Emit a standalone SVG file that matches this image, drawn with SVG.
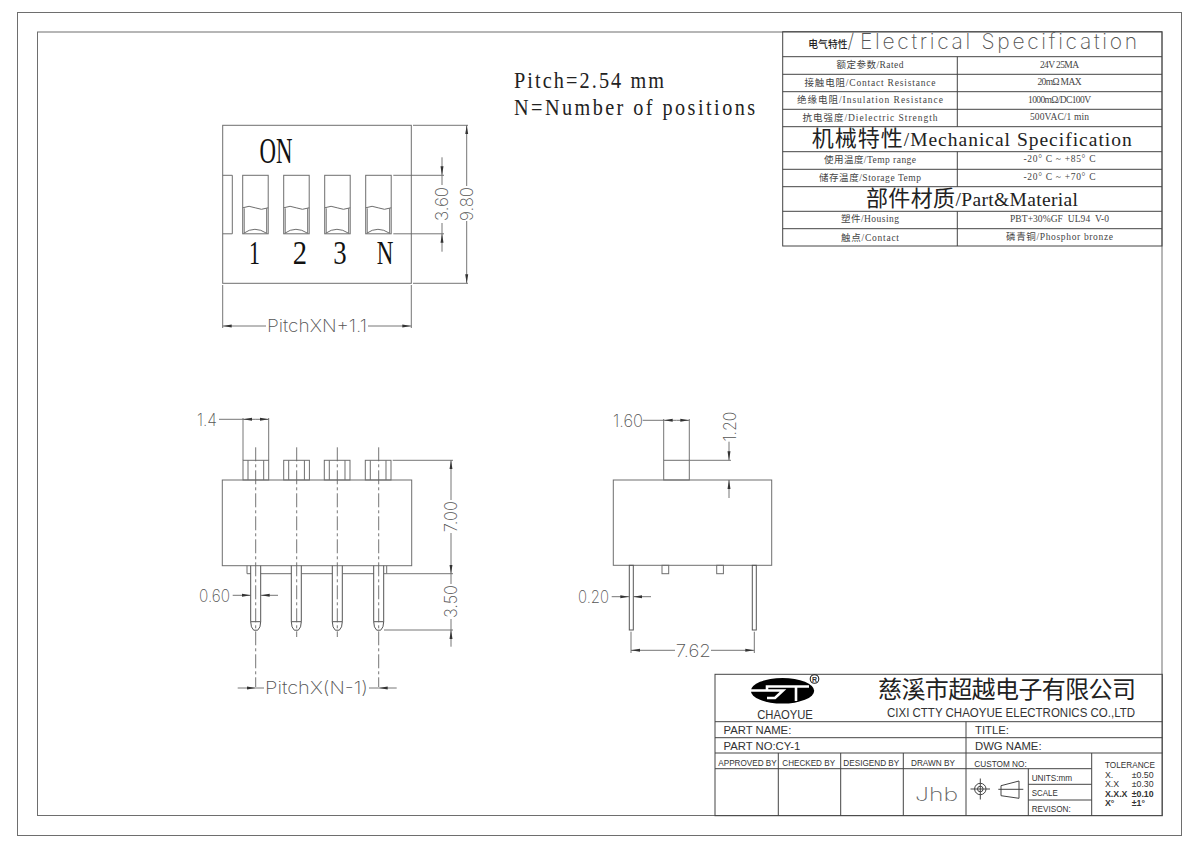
<svg xmlns="http://www.w3.org/2000/svg" xmlns:xlink="http://www.w3.org/1999/xlink" width="1200" height="848" viewBox="0 0 1200 848">
<style>
.l{fill:none;stroke:#6e6e6e;stroke-width:1}
.k{fill:none;stroke:#555;stroke-width:1}
.t{fill:none;stroke:#444;stroke-width:1}
.c{fill:none;stroke:#666;stroke-width:.9;stroke-dasharray:14 3 3 3}
.d{fill:none;stroke:#666;stroke-width:.9}
.dim{font-family:Inter,"Liberation Sans",Arial,sans-serif;font-weight:200;font-size:17.500px;fill:#555;text-anchor:middle}
.big{font-family:"Liberation Serif","Times New Roman",serif;fill:#111}
.pitch{font-family:"Liberation Serif","Times New Roman",serif;font-size:23px;fill:#222}
.s{font-family:"Liberation Serif","Noto Sans CJK SC",serif;font-size:9.500px;fill:#444;text-anchor:middle}
.h{font-family:"Liberation Serif","Noto Sans CJK SC",serif;font-size:19.500px;fill:#222;text-anchor:middle}
.hc{font-size:22px}
.a{font-family:"Liberation Sans",Arial,sans-serif;fill:#333}
</style>
<defs>
<marker id="ar" viewBox="0 0 9 4" refX="9" refY="2" markerWidth="9" markerHeight="4" markerUnits="userSpaceOnUse" orient="auto-start-reverse"><path d="M0 .5L9 2L0 3.500z" fill="#333"/></marker>
<g id="sw"><rect x="0" y="0" width="25.500" height="58.500" class="l"/><path class="l" d="M0 32.500q6.500-3 12.500 0t13 0M1.500 33V58M24 33V58"/><path class="l" d="M1 58q11-8 23 0"/></g>
<g id="btn"><rect x="0" y="0" width="25.700" height="19.700" class="l"/><path class="l" d="M5 0V19.700M20.700 0V19.700"/></g>
<g id="pin"><path class="k" d="M0 0V56Q0 62 3 64.500H7Q10 62 10 56V0M0 56H10"/></g>
</defs>
<g id="frame"><rect x="17.500" y="12.500" width="1164" height="823" class="l"/><rect x="37.500" y="32" width="1124.500" height="783.500" class="l"/></g>

<g id="notes"><text class="pitch" transform="translate(514 88) scale(.88 1)" textLength="170.500" lengthAdjust="spacing">Pitch=2.54 mm</text><text class="pitch" transform="translate(514 115) scale(.88 1)" textLength="274" lengthAdjust="spacing">N=Number of positions</text></g>

<g id="top-view">
<rect x="222.700" y="125.300" width="188.600" height="158" class="l"/>
<path class="l" d="M222.700 175.300H232.300V233.800H222.700"/>
<use xlink:href="#sw" x="242.700" y="175.300"/><use xlink:href="#sw" x="283.700" y="175.300"/><use xlink:href="#sw" x="324.700" y="175.300"/><use xlink:href="#sw" x="365.700" y="175.300"/>
<text class="big" x="259.500" y="163" font-size="35" textLength="33" lengthAdjust="spacingAndGlyphs">ON</text>
<text class="big" x="249" y="264" font-size="34" textLength="11" lengthAdjust="spacingAndGlyphs">1</text><text class="big" x="292.700" y="264" font-size="34" textLength="14.300" lengthAdjust="spacingAndGlyphs">2</text><text class="big" x="333.300" y="264" font-size="34" textLength="13.400" lengthAdjust="spacingAndGlyphs">3</text><text class="big" x="376.700" y="264" font-size="34" textLength="16.600" lengthAdjust="spacingAndGlyphs">N</text>
</g>

<g id="front-view">
<rect x="222.300" y="480" width="189.400" height="85.700" class="l"/>
<use xlink:href="#btn" x="243" y="460.300"/><use xlink:href="#btn" x="283.700" y="460.300"/><use xlink:href="#btn" x="324.300" y="460.300"/><use xlink:href="#btn" x="365.300" y="460.300"/>
<path class="l" d="M247 565.700V573.700H250.700M260.700 573.700H291.300M301.600 573.700H332.300M342.700 573.700H373.700M384 573.700H386.700V565.700"/>
<use xlink:href="#pin" x="250.700" y="565.700"/><use xlink:href="#pin" x="291.300" y="565.700"/><use xlink:href="#pin" x="332.300" y="565.700"/><use xlink:href="#pin" x="373.700" y="565.700"/>
</g>

<g id="side-view">
<rect x="613.300" y="480" width="158.400" height="85.300" class="l"/>
<rect x="663.700" y="460.300" width="25.600" height="19.700" class="l"/>
<rect x="629.300" y="565.300" width="4" height="64.700" class="k"/><rect x="752.300" y="565.300" width="4" height="64.700" class="k"/>
<rect x="662" y="565.300" width="6.700" height="8.400" class="l"/><rect x="716.700" y="565.300" width="6.700" height="8.400" class="l"/>
</g>

<g id="connectors">
<path class="d" d="M393.300 175.300H444M393.300 233.800H444M413 125.300H468M413 283.300H468M222.700 285V328M411.300 285V328"/>
<path class="d" d="M442 157.300V175.300" marker-end="url(#ar)"/><path class="d" d="M442 175.300V185"/><path class="d" d="M442 251.700V233.800" marker-end="url(#ar)"/><path class="d" d="M442 233.800V223"/>
<path class="d" d="M466.700 186V125.300" marker-end="url(#ar)"/><path class="d" d="M466.700 221V283.300" marker-end="url(#ar)"/>
<path class="d" d="M266 326H222.700" marker-end="url(#ar)"/><path class="d" d="M368 326H411.300" marker-end="url(#ar)"/>

<path class="c" d="M255.700 447.300V687M378.700 447.300V687M296.700 447.300V637M337.300 447.300V637"/>
<path class="d" d="M243 460V418M268.700 460V418M219 419.300H243"/>
<path class="d" d="M255.800 419.300H243" marker-end="url(#ar)"/><path class="d" d="M255.800 419.300H268.700" marker-end="url(#ar)"/>
<path class="d" d="M392.700 460.300H453M386.700 573.700H453M384 630H453"/>
<path class="d" d="M451 500V460.300" marker-end="url(#ar)"/><path class="d" d="M451 533V573.700" marker-end="url(#ar)"/>
<path class="d" d="M451 584V573.700"/><path class="d" d="M451 646.700V630" marker-end="url(#ar)"/><path class="d" d="M451 630V619"/>
<path class="d" d="M232.700 595.300H250.700" marker-end="url(#ar)"/><path class="d" d="M278 595.300H260.700" marker-end="url(#ar)"/>
<path class="d" d="M237.700 688H255.700" marker-end="url(#ar)"/><path class="d" d="M255.700 688H264M369 688H378.700"/><path class="d" d="M396.700 688H378.700" marker-end="url(#ar)"/>

<path class="d" d="M663.700 460V419M689.300 460V419M642.700 420.300H663.700"/>
<path class="d" d="M676.500 420.300H663.700" marker-end="url(#ar)"/><path class="d" d="M676.500 420.300H689.300" marker-end="url(#ar)"/>
<path class="d" d="M689.300 460.300H731"/>
<path class="d" d="M729 441.700V460.300" marker-end="url(#ar)"/><path class="d" d="M729 498V480" marker-end="url(#ar)"/>
<path class="d" d="M611.700 596.700H629.300" marker-end="url(#ar)"/><path class="d" d="M651 596.700H633.300" marker-end="url(#ar)"/>
<path class="d" d="M631 631.700V653M754.300 631.700V653"/>
<path class="d" d="M675 650.300H631" marker-end="url(#ar)"/><path class="d" d="M711 650.300H754.300" marker-end="url(#ar)"/>
</g>

<g id="dimension-labels">
<text class="dim" transform="translate(448.300 204) rotate(-90)" textLength="34" lengthAdjust="spacingAndGlyphs">3.60</text>
<text class="dim" transform="translate(473.300 204) rotate(-90)" textLength="34" lengthAdjust="spacingAndGlyphs">9.80</text>
<text class="dim" x="317" y="331.500" textLength="100" lengthAdjust="spacingAndGlyphs">PitchXN+1.1</text>
<text class="dim" x="207" y="426" textLength="20" lengthAdjust="spacingAndGlyphs">1.4</text>
<text class="dim" transform="translate(457 516.700) rotate(-90)" textLength="31" lengthAdjust="spacingAndGlyphs">7.00</text>
<text class="dim" transform="translate(457 601.500) rotate(-90)" textLength="33" lengthAdjust="spacingAndGlyphs">3.50</text>
<text class="dim" x="214.500" y="602" textLength="31" lengthAdjust="spacingAndGlyphs">0.60</text>
<text class="dim" x="316.500" y="694" textLength="103" lengthAdjust="spacingAndGlyphs">PitchX(N-1)</text>
<text class="dim" x="628" y="427" textLength="30" lengthAdjust="spacingAndGlyphs">1.60</text>
<text class="dim" transform="translate(736 426.500) rotate(-90)" textLength="30" lengthAdjust="spacingAndGlyphs">1.20</text>
<text class="dim" x="593.500" y="603" textLength="31" lengthAdjust="spacingAndGlyphs">0.20</text>
<text class="dim" x="693.300" y="657" textLength="35" lengthAdjust="spacingAndGlyphs">7.62</text>
</g>

<g id="spec-table">
<rect x="782.700" y="31.700" width="379.300" height="214.300" class="t"/>
<path class="t" d="M782.700 56.700H1162M782.700 74.300H1162M782.700 91.700H1162M782.700 109.300H1162M782.700 126.700H1162M782.700 151.700H1162M782.700 169.300H1162M782.700 186.700H1162M782.700 211.300H1162M782.700 228.700H1162"/>
<path class="t" d="M957.300 56.700V126.700M957.300 151.700V186.700M957.300 211.300V246"/>
<text x="808.300" y="48" font-family="'Noto Sans CJK SC',sans-serif" font-size="9.800" font-weight="500" fill="#222">电气特性<tspan font-family="Inter,'Liberation Sans',sans-serif" font-size="20" font-weight="200" fill="#555">/</tspan></text>
<text class="dim" x="998.500" y="49" style="font-size:21px" textLength="277" lengthAdjust="spacing">Electrical Specification</text>
<text class="s" x="870" y="68" textLength="67">额定参数/Rated</text><text class="s" x="1059.500" y="67.500" textLength="39">24V 25MA</text>
<text class="s" x="870" y="85.500" textLength="131">接触电阻/Contact Resistance</text><text class="s" x="1059.500" y="85" textLength="44">20mΩ MAX</text>
<text class="s" x="870" y="103" textLength="146">绝缘电阻/Insulation Resistance</text><text class="s" x="1059.500" y="102.500" textLength="63">1000mΩ/DC100V</text>
<text class="s" x="870" y="121" textLength="135">抗电强度/Dielectric Strength</text><text class="s" x="1059.500" y="120" textLength="59">500VAC/1 min</text>
<text class="h" x="971.700" y="146" textLength="320"><tspan class="hc">机械特性</tspan>/Mechanical Specification</text>
<text class="s" x="870" y="163" textLength="92">使用温度/Temp range</text><text class="s" x="1059.500" y="162" textLength="72">-20° C ~ +85° C</text>
<text class="s" x="870" y="180.500" textLength="102">储存温度/Storage Temp</text><text class="s" x="1059.500" y="180" textLength="72">-20° C ~ +70° C</text>
<text class="h" x="972" y="205.500" textLength="212"><tspan class="hc">部件材质</tspan>/Part&amp;Material</text>
<text class="s" x="870" y="222" textLength="58">塑件/Housing</text><text class="s" x="1059.500" y="221.500" textLength="99" xml:space="preserve">PBT+30%GF  UL94  V-0</text>
<text class="s" x="870" y="240.500" textLength="58">触点/Contact</text><text class="s" x="1059.500" y="240" textLength="107">磷青铜/Phosphor bronze</text>
</g>

<g id="title-block">
<rect x="715" y="674.300" width="447.300" height="141.400" class="t"/>
<path class="t" d="M715 721.700H1162.300M715 737.700H1162.300M715 753H1162.300M966 721.700V815.700M715 768.700H966M778.300 753V815.700M840.700 753V815.700M903.300 753V815.700M966 768.700H1091.700M1091.700 753V815.700M1028.300 768.700V815.700M1028.300 784.300H1091.700M1028.300 800H1091.700"/>
<ellipse cx="782.500" cy="690.800" rx="31.700" ry="12.800" fill="#000"/>
<path d="M750 690.500H767V686.500H809M768 690.500H773L783 690.500L775 698H767M796 686.500V701" fill="none" stroke="#fff" stroke-width="2.600"/>
<circle cx="814.500" cy="679" r="4.300" fill="none" stroke="#222" stroke-width="1.100"/>
<text class="a" x="814.500" y="681.500" font-size="7" text-anchor="middle" font-weight="700">R</text>
<text class="a" x="785" y="719" font-size="12" text-anchor="middle" textLength="55.700" lengthAdjust="spacingAndGlyphs">CHAOYUE</text>
<text x="1007" y="698" font-family="'Noto Sans CJK SC','Liberation Sans',sans-serif" font-size="24" fill="#222" text-anchor="middle" textLength="258">慈溪市超越电子有限公司</text>
<text class="a" x="1011" y="717" font-size="12.500" text-anchor="middle" textLength="248" lengthAdjust="spacingAndGlyphs">CIXI CTTY CHAOYUE ELECTRONICS CO.,LTD</text>
<text class="a" x="723.500" y="734" font-size="11.300">PART NAME:</text><text class="a" x="975" y="734" font-size="11.300">TITLE:</text>
<text class="a" x="723.500" y="750" font-size="11.300">PART NO:CY-1</text><text class="a" x="975" y="750" font-size="11.300">DWG NAME:</text>
<g font-size="8.800" text-anchor="middle">
<text class="a" x="747.500" y="765.700" textLength="58.400" lengthAdjust="spacingAndGlyphs">APPROVED BY</text><text class="a" x="808.700" y="765.700" textLength="52.700" lengthAdjust="spacingAndGlyphs">CHECKED BY</text><text class="a" x="871.300" y="765.700" textLength="56" lengthAdjust="spacingAndGlyphs">DESIGEND BY</text><text class="a" x="933" y="765.700" textLength="44" lengthAdjust="spacingAndGlyphs">DRAWN BY</text>
<text class="a" x="1000.500" y="767.300" textLength="52.400" lengthAdjust="spacingAndGlyphs">CUSTOM NO:</text><text class="a" x="1130" y="767.500" textLength="50" lengthAdjust="spacingAndGlyphs">TOLERANCE</text>
</g>
<text x="936.500" y="800.700" font-family="Inter,'Liberation Sans',sans-serif" font-weight="200" font-size="18" fill="#666" text-anchor="middle" textLength="43" lengthAdjust="spacingAndGlyphs">Jhb</text>
<circle cx="980.300" cy="789" r="5.700" class="t"/><circle cx="980.300" cy="789" r="2.800" class="t"/>
<path class="t" d="M980.300 778.500V799.500M970.500 789H990M998.300 789.300H1023.300M1001 785.700L1019 781V798.300L1001 795.700V785.700z"/>
<g font-size="8.800">
<text class="a" x="1031.700" y="780.700" textLength="40.500" lengthAdjust="spacingAndGlyphs">UNITS:mm</text><text class="a" x="1031.700" y="796" textLength="26" lengthAdjust="spacingAndGlyphs">SCALE</text><text class="a" x="1031.700" y="811.700" textLength="39" lengthAdjust="spacingAndGlyphs">REVISON:</text>
<text class="a" x="1105" y="778">X.</text><text class="a" x="1131.700" y="778">±0.50</text>
<text class="a" x="1105" y="787.300">X.X</text><text class="a" x="1131.700" y="787.300">±0.30</text>
<text class="a" x="1105" y="796.700" font-weight="700">X.X.X</text><text class="a" x="1131.700" y="796.700" font-weight="700">±0.10</text>
<text class="a" x="1105" y="806" font-weight="700">X°</text><text class="a" x="1131.700" y="806" font-weight="700">±1°</text>
</g>
</g>
</svg>
